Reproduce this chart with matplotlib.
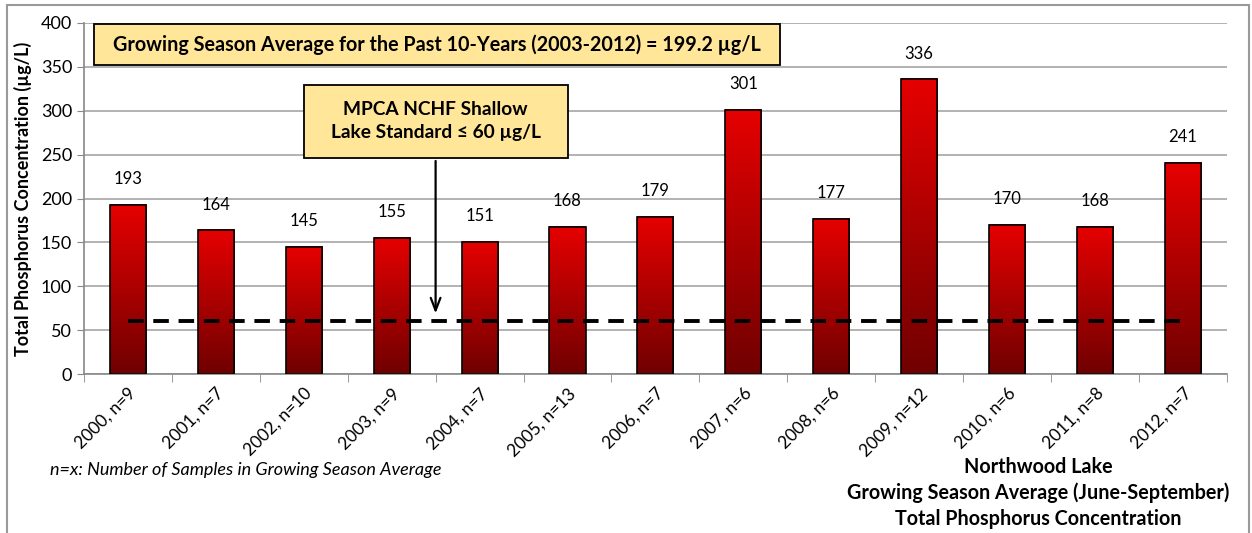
import numpy as np
import matplotlib
matplotlib.use("Agg")
import matplotlib.pyplot as plt
from matplotlib.patches import Rectangle
from matplotlib.colors import LinearSegmentedColormap

plt.rcParams['font.family'] = ['Lato', 'DejaVu Sans']

years = ["2000, n=9", "2001, n=7", "2002, n=10", "2003, n=9", "2004, n=7", "2005, n=13",
         "2006, n=7", "2007, n=6", "2008, n=6", "2009, n=12", "2010, n=6", "2011, n=8", "2012, n=7"]
tp = [193, 164, 145, 155, 151, 168, 179, 301, 177, 336, 170, 168, 241]
standard = 60

fig = plt.figure(figsize=(12.52, 5.33), dpi=100)
ax = fig.add_axes([0.067, 0.298, 0.913, 0.659])

# figure border
fig.patches.append(Rectangle((0.0056, -0.05), 0.9924, 1.04, transform=fig.transFigure,
                             fill=False, edgecolor="#999999", lw=1.5))

x = np.arange(len(tp))
w = 0.41
cmap = LinearSegmentedColormap.from_list("redgrad", ["#700000", "#E60000"])
grad = np.linspace(0, 1, 256).reshape(-1, 1)
for xi, v in zip(x, tp):
    ax.imshow(grad, extent=(xi - w / 2, xi + w / 2, 0, v), origin="lower",
              aspect="auto", cmap=cmap, zorder=2)
ax.bar(x, tp, width=w, facecolor="none", edgecolor="black", lw=1.2, zorder=3)

for xi, v in zip(x, tp):
    ax.text(xi, v + 20, str(v), ha="center", va="bottom", fontsize=12, color="black")

ax.plot([0, 12], [standard, standard], ls=(0, (4, 2.5)), color="black", lw=2.8, zorder=4)

ax.set_xlim(-0.5, 12.5)
ax.set_ylim(0, 400)
ax.set_yticks(range(0, 401, 50))
ax.yaxis.grid(True, color="#A6A6A6", lw=1.2)
ax.set_axisbelow(True)
ax.tick_params(axis="y", labelsize=13, length=5, color="#888888")
ax.set_xticks(x)
ax.set_xticklabels(years, rotation=45, ha="right", rotation_mode="anchor", fontsize=12.5)
ax.tick_params(axis="x", which="major", length=0, pad=8)
ax.set_xticks(np.arange(-0.5, 13, 1), minor=True)
ax.tick_params(axis="x", which="minor", length=6, color="#888888")
for s in ["top", "right"]:
    ax.spines[s].set_visible(False)
for s in ["left", "bottom"]:
    ax.spines[s].set_color("#888888")
    ax.spines[s].set_linewidth(1.2)
ax.set_ylabel("Total Phosphorus Concentration (µg/L)", fontsize=13, fontweight="bold", labelpad=6)

# annotation boxes
ax.add_patch(Rectangle((0.0087, 352), 0.6, 47, transform=ax.get_yaxis_transform(),
                       fc="#FFE699", ec="black", lw=1.3, zorder=5))
ax.text(0.309, 375.5, "Growing Season Average for the Past 10-Years (2003-2012) = 199.2 µg/L",
        transform=ax.get_yaxis_transform(), fontsize=14.2, fontweight="bold",
        va="center", ha="center", zorder=6)
ax.add_patch(Rectangle((0.1925, 246), 0.231, 83.5, transform=ax.get_yaxis_transform(),
                       fc="#FFE699", ec="black", lw=1.3, zorder=5))
ax.text(3.5, 288, "MPCA NCHF Shallow\nLake Standard ≤ 60 µg/L", fontsize=13.8, fontweight="bold",
        ha="center", va="center", linespacing=1.45, zorder=6)
ax.annotate("", xy=(3.5, 66), xytext=(3.5, 246),
            arrowprops=dict(arrowstyle="->,head_length=0.9,head_width=0.35", color="black", lw=1.6),
            zorder=6)

fig.text(0.04, 0.118, "n=x: Number of Samples in Growing Season Average", fontsize=13,
         style="italic", ha="left", va="center")
fig.text(0.829, 0.075, "Northwood Lake\nGrowing Season Average (June-September)\nTotal Phosphorus Concentration",
         fontsize=14.2, fontweight="bold", ha="center", va="center", linespacing=1.35)

fig.savefig("out.png", dpi=100)
